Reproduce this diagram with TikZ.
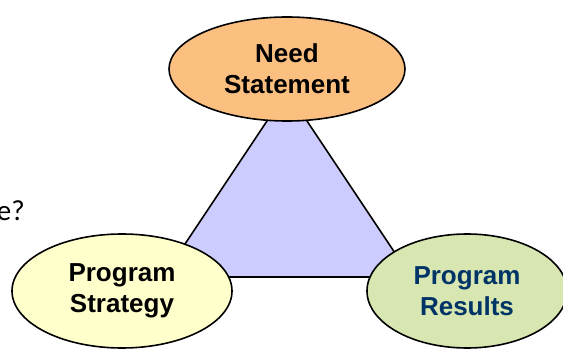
\documentclass[tikz,border=0pt]{standalone}
\usepackage{fontspec}
\setmainfont{Liberation Sans}
\newfontfamily\calib{Carlito}
\usetikzlibrary{shapes.geometric}
\definecolor{needfill}{RGB}{251,191,128}
\definecolor{trifill}{RGB}{204,204,255}
\definecolor{stratfill}{RGB}{255,255,204}
\definecolor{resfill}{RGB}{216,230,178}
\definecolor{restext}{RGB}{0,51,102}
\tikzset{
  oval/.style={ellipse, draw=black, line width=1.6pt, inner sep=0pt, align=center,
    font=\fontsize{26}{31}\selectfont\bfseries},
}
\begin{document}
\begin{tikzpicture}[x=1pt,y=-1pt]
\useasboundingbox (0,0) rectangle (563,350);
\coordinate (t1) at (287,91);
\coordinate (t2) at (163,277);
\coordinate (t3) at (411,277);
\draw[fill=trifill, line width=1.6pt, line join=miter] (t1) -- (t2) -- (t3) -- cycle;
\node[oval, fill=needfill, minimum width=236pt, minimum height=104pt] (need) at (287,69) {Need\\Statement};
\node[oval, fill=stratfill, minimum width=220pt, minimum height=114pt] (strat) at (122,291) {Program\\Strategy};
\node[oval, fill=resfill, text=restext, minimum width=200pt, minimum height=114pt] (res) at (467,291) {Program\\Results};
\node[anchor=base east, inner sep=0pt, font=\calib\fontsize{29}{33}\selectfont] (q) at (25,221) {e?};
\end{tikzpicture}
\end{document}
